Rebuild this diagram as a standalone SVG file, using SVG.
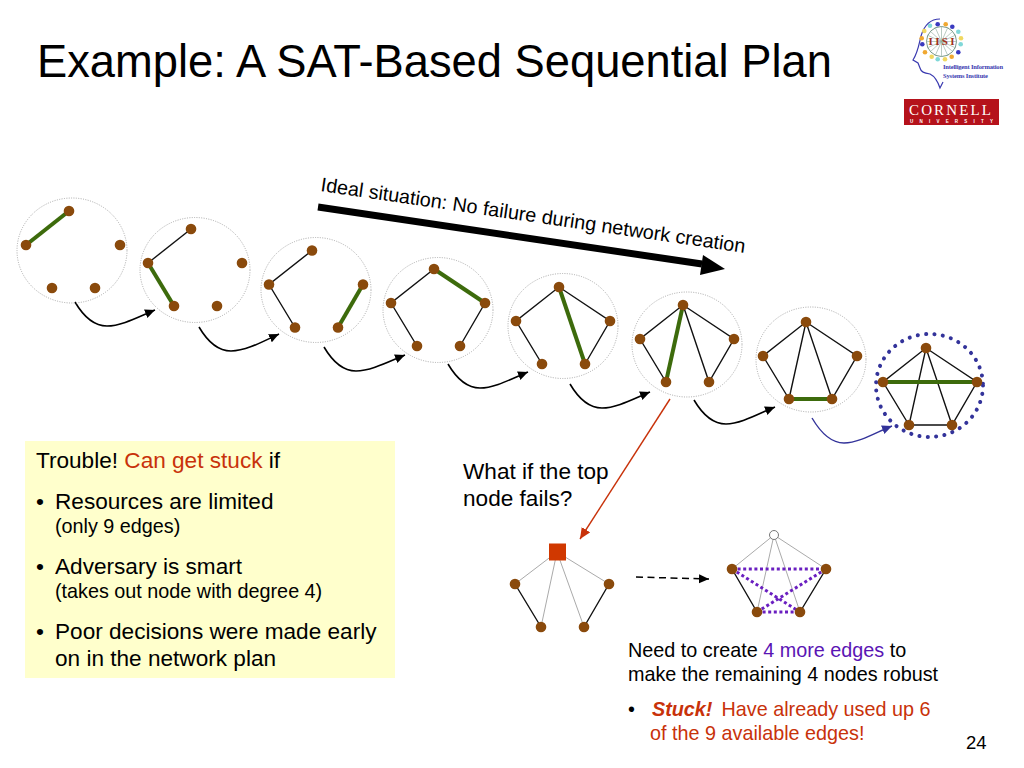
<svg xmlns="http://www.w3.org/2000/svg" xmlns:xlink="http://www.w3.org/1999/xlink" width="1024" height="768" viewBox="0 0 1024 768">
<style>
text{font-family:"Liberation Sans",Arial,sans-serif;fill:#000}
.ring{fill:none;stroke:#a8a8a8;stroke-width:1;stroke-dasharray:1 1.4}
.e{stroke:#111;stroke-width:1.4;fill:none}
.g{stroke:#3d6b0c;stroke-width:4;fill:none}
.n{fill:#8a4a0c}
.c{fill:none;stroke:#000;stroke-width:1.6}
.f{stroke:#aaa;stroke-width:1;fill:none}
.p{stroke:#6a1fc0;stroke-width:3;stroke-dasharray:3 2.6;fill:none}
.body{font-size:22.6px}
.small{font-size:19.8px}
.red{fill:#c8320a}
.pur{fill:#5a14b4}
.rb{font-weight:bold;font-style:italic;fill:#c8320a}
.lb{fill:#3a3ac0}.lo{fill:#f0a830}.lt{fill:#80d8d8}.ly{fill:#f0d860}
.lt1{font-family:"Liberation Serif",serif;font-size:6.500px;font-weight:bold;fill:#3a3ab0}
</style>
<defs>
<marker id="ah" markerUnits="userSpaceOnUse" markerWidth="12" markerHeight="10" refX="10" refY="4.5" orient="auto"><path d="M0 0L10 4.5L0 9z" fill="#000"/></marker>
<marker id="ab" markerUnits="userSpaceOnUse" markerWidth="12" markerHeight="10" refX="10" refY="4.5" orient="auto"><path d="M0 0L10 4.5L0 9z" fill="#33339a"/></marker>
<marker id="ar" markerUnits="userSpaceOnUse" markerWidth="14" markerHeight="12" refX="11" refY="5" orient="auto"><path d="M0 0L11 5L0 10z" fill="#c8320a"/></marker>
<g id="dots"><circle class="n" cx="69" cy="211" r="5.300"/><circle class="n" cx="26" cy="245" r="5.300"/><circle class="n" cx="120" cy="245" r="5.300"/><circle class="n" cx="52" cy="288" r="5.300"/><circle class="n" cx="95" cy="288" r="5.300"/></g>
<ellipse id="rg" class="ring" cx="73" cy="250.5" rx="55" ry="52.5"/>
</defs>
<rect width="1024" height="768" fill="#fff"/>
<text id="title" x="37" y="77" style="font-size:45.300px">Example: A SAT-Based Sequential Plan</text>

<g id="logo">
<path d="M940 19C930 19 924 26 921 36C919 44 918 52 913 60L918 63L920 68C921 72 924 73 930 74C934 76 938 82 940 88L943 82" fill="none" stroke="#3a3ab0" stroke-width="1.2"/>
<circle cx="941.500" cy="41.500" r="15" fill="none" stroke="#7a9a8a" stroke-width="1"/>
<path d="M930 31L953 52M953 31L930 52M941.500 26V57M926 41.500H957M935 27L948 56M948 27L935 56M927 35L956 48M956 35L927 48" stroke="#8aa89a" stroke-width=".6" fill="none"/>
<circle class="lb" cx="937.700" cy="24.300" r="2.300"/><circle class="lo" cx="945.700" cy="24.300" r="2.300"/><circle class="lb" cx="952.300" cy="26.700" r="2.300"/><circle class="lt" cx="958.300" cy="31.700" r="2.300"/><circle class="ly" cx="961" cy="38.300" r="2.300"/><circle class="lt" cx="960.700" cy="44.300" r="2.300"/><circle class="lb" cx="958.300" cy="52.300" r="2.300"/><circle class="lo" cx="951.700" cy="56.700" r="2.300"/><circle class="ly" cx="945" cy="59.300" r="2.300"/><circle class="lt" cx="937.700" cy="59.300" r="2.300"/><circle class="ly" cx="931.700" cy="56.700" r="2.300"/><circle class="lo" cx="925" cy="52.300" r="2.300"/><circle class="lb" cx="922.300" cy="44.300" r="2.300"/><circle class="lo" cx="921.700" cy="38.300" r="2.300"/><circle class="ly" cx="924.300" cy="31" r="2.300"/><circle class="lt" cx="930" cy="25.700" r="2.300"/>
<text x="941.500" y="45" text-anchor="middle" style="font-family:'Liberation Serif',serif;font-size:11px;font-weight:bold;fill:#a03020" textLength="26">IISI</text>
<text class="lt1" x="943" y="69" textLength="60">Intelligent Information</text>
<text class="lt1" x="943" y="78" textLength="45">Systems Institute</text>
<rect x="904" y="99" width="95" height="26" fill="#b5121b"/>
<text x="909" y="114.500" style="font-family:'Liberation Serif',serif;font-size:15px;fill:#fff" textLength="82">CORNELL</text>
<text x="910" y="123" style="font-size:4.500px;fill:#fff;font-weight:bold" textLength="83">UNIVERSITY</text>
</g>

<g id="connectors">
<path class="c" marker-end="url(#ah)" d="M75 302C85 319 96 326 107 326C122 326 140 316 155 310"/>
<path class="c" marker-end="url(#ah)" d="M199 327C209 344 220 351 231 351C246 351 264 341 279 334"/>
<path class="c" marker-end="url(#ah)" d="M324 347C334 364 345 371 356 371C371 371 390 361 405 355"/>
<path class="c" marker-end="url(#ah)" d="M448 364C458 381 469 388 480 388C495 388 513 378 528 372"/>
<path class="c" marker-end="url(#ah)" d="M570 384C580 401 591 408 602 408C617 408 635 398 650 392"/>
<path class="c" marker-end="url(#ah)" d="M694 400C704 417 715 424 726 424C741 424 760 413 775 407"/>
<path fill="none" stroke="#33339a" stroke-width="1.4" marker-end="url(#ab)" d="M812 418C822 435 833 443 844 443C859 443 877 432 892 426"/>
<path d="M318 207L702 264" stroke="#000" stroke-width="7" fill="none"/>
<path d="M725 269L703 255L700 275z" fill="#000"/>
<path d="M670 399L580 539" stroke="#c8320a" stroke-width="1.4" fill="none" marker-end="url(#ar)"/>
<path d="M636 577L709 579" stroke="#000" stroke-width="1.5" stroke-dasharray="7 4.5" fill="none" marker-end="url(#ah)"/>
</g>

<g id="g1"><use xlink:href="#rg" x="-1"/><path class="g" d="M26 245L69 211"/><use xlink:href="#dots"/></g>
<g id="g2" transform="translate(122 18)"><use xlink:href="#rg" y="1.5"/><path class="e" d="M69 211L26 245"/><path class="g" d="M26 245L52 288"/><use xlink:href="#dots"/></g>
<g id="g3" transform="translate(243 39.5)"><use xlink:href="#rg"/><path class="e" d="M69 211L26 245L52 288"/><path class="g" d="M95 288L120 245"/><use xlink:href="#dots"/></g>
<g id="g4" transform="translate(365 58)"><use xlink:href="#rg" y="1.5"/><path class="e" d="M52 288L26 245L69 211M95 288L120 245"/><path class="g" d="M69 211L120 245"/><use xlink:href="#dots"/></g>
<g id="g5" transform="translate(490 76)"><use xlink:href="#rg" y="-0.5"/><path class="e" d="M52 288L26 245L69 211L120 245L95 288"/><path class="g" d="M69 211L95 288"/><use xlink:href="#dots"/></g>
<g id="g6" transform="translate(614 94)"><use xlink:href="#rg"/><path class="e" d="M52 288L26 245L69 211L120 245L95 288L69 211"/><path class="g" d="M69 211L52 288"/><use xlink:href="#dots"/></g>
<g id="g7" transform="translate(737 111)"><use xlink:href="#rg" x="1" y="-2"/><path class="e" d="M52 288L26 245L69 211L120 245L95 288L69 211L52 288"/><path class="g" d="M52 288L95 288"/><use xlink:href="#dots"/></g>
<g id="g8" transform="translate(857 137)"><ellipse cx="72.500" cy="248.500" rx="53.500" ry="51.500" fill="none" stroke="#33339a" stroke-width="4" stroke-linecap="round" stroke-dasharray="0.1 8.3"/><path class="e" d="M52 288L26 245L69 211L120 245L95 288L69 211L52 288L95 288"/><path class="g" d="M26 245L120 245"/><use xlink:href="#dots"/></g>

<g id="fail-node">
<path d="M557 552L515 584M557 552L541 627M557 552L584 627M557 552L609 584" class="f"/>
<path class="e" d="M515 584L541 627M609 584L584 627"/>
<rect x="549" y="543.500" width="17" height="17" fill="#d03800"/>
<circle class="n" cx="515" cy="584" r="5.300"/><circle class="n" cx="609" cy="584" r="5.300"/><circle class="n" cx="541" cy="627" r="5.300"/><circle class="n" cx="584" cy="627" r="5.300"/>
</g>
<g id="repair-node">
<path d="M774 535L732 569M774 535L757 612M774 535L800 612M774 535L826 569" class="f"/>
<path class="e" d="M732 569L757 612M826 569L800 612"/>
<path class="p" d="M732 569L826 569M732 569L800 612M826 569L757 612M757 612L800 612"/>
<circle cx="774" cy="535" r="4.500" fill="#fff" stroke="#777" stroke-width="1"/>
<circle class="n" cx="732" cy="569" r="5.300"/><circle class="n" cx="826" cy="569" r="5.300"/><circle class="n" cx="757" cy="612" r="5.300"/><circle class="n" cx="800" cy="612" r="5.300"/>
</g>

<text id="ideal" transform="translate(320 191) rotate(8.3)" style="font-size:19.800px">Ideal situation: No failure during network creation</text>

<g id="trouble">
<rect x="25" y="441" width="370" height="237" fill="#ffffcc"/>
<text class="body" x="36" y="468">Trouble! <tspan class="red">Can get stuck</tspan> if</text>
<text class="body" x="36" y="509">•</text><text class="body" x="55" y="509">Resources are limited</text>
<text class="small" x="55" y="533">(only 9 edges)</text>
<text class="body" x="36" y="574">•</text><text class="body" x="55" y="574">Adversary is smart</text>
<text class="small" x="55" y="598">(takes out node with degree 4)</text>
<text class="body" x="36" y="639">•</text><text class="body" x="55" y="639">Poor decisions were made early</text>
<text class="body" x="55" y="666">on in the network plan</text>
</g>
<text class="body" x="463" y="479">What if the top</text>
<text class="body" x="463" y="506">node fails?</text>
<text class="small" x="628" y="657">Need to create <tspan class="pur">4 more edges</tspan> to</text>
<text class="small" x="628" y="681">make the remaining 4 nodes robust</text>
<text class="small" x="628" y="716">•</text>
<text class="small" x="652" y="716"><tspan class="rb">Stuck!</tspan><tspan class="red" dx="9">Have already used up 6</tspan></text>
<text class="small red" x="650" y="740">of the 9 available edges!</text>
<text x="966" y="749" style="font-size:18.500px">24</text>
</svg>
